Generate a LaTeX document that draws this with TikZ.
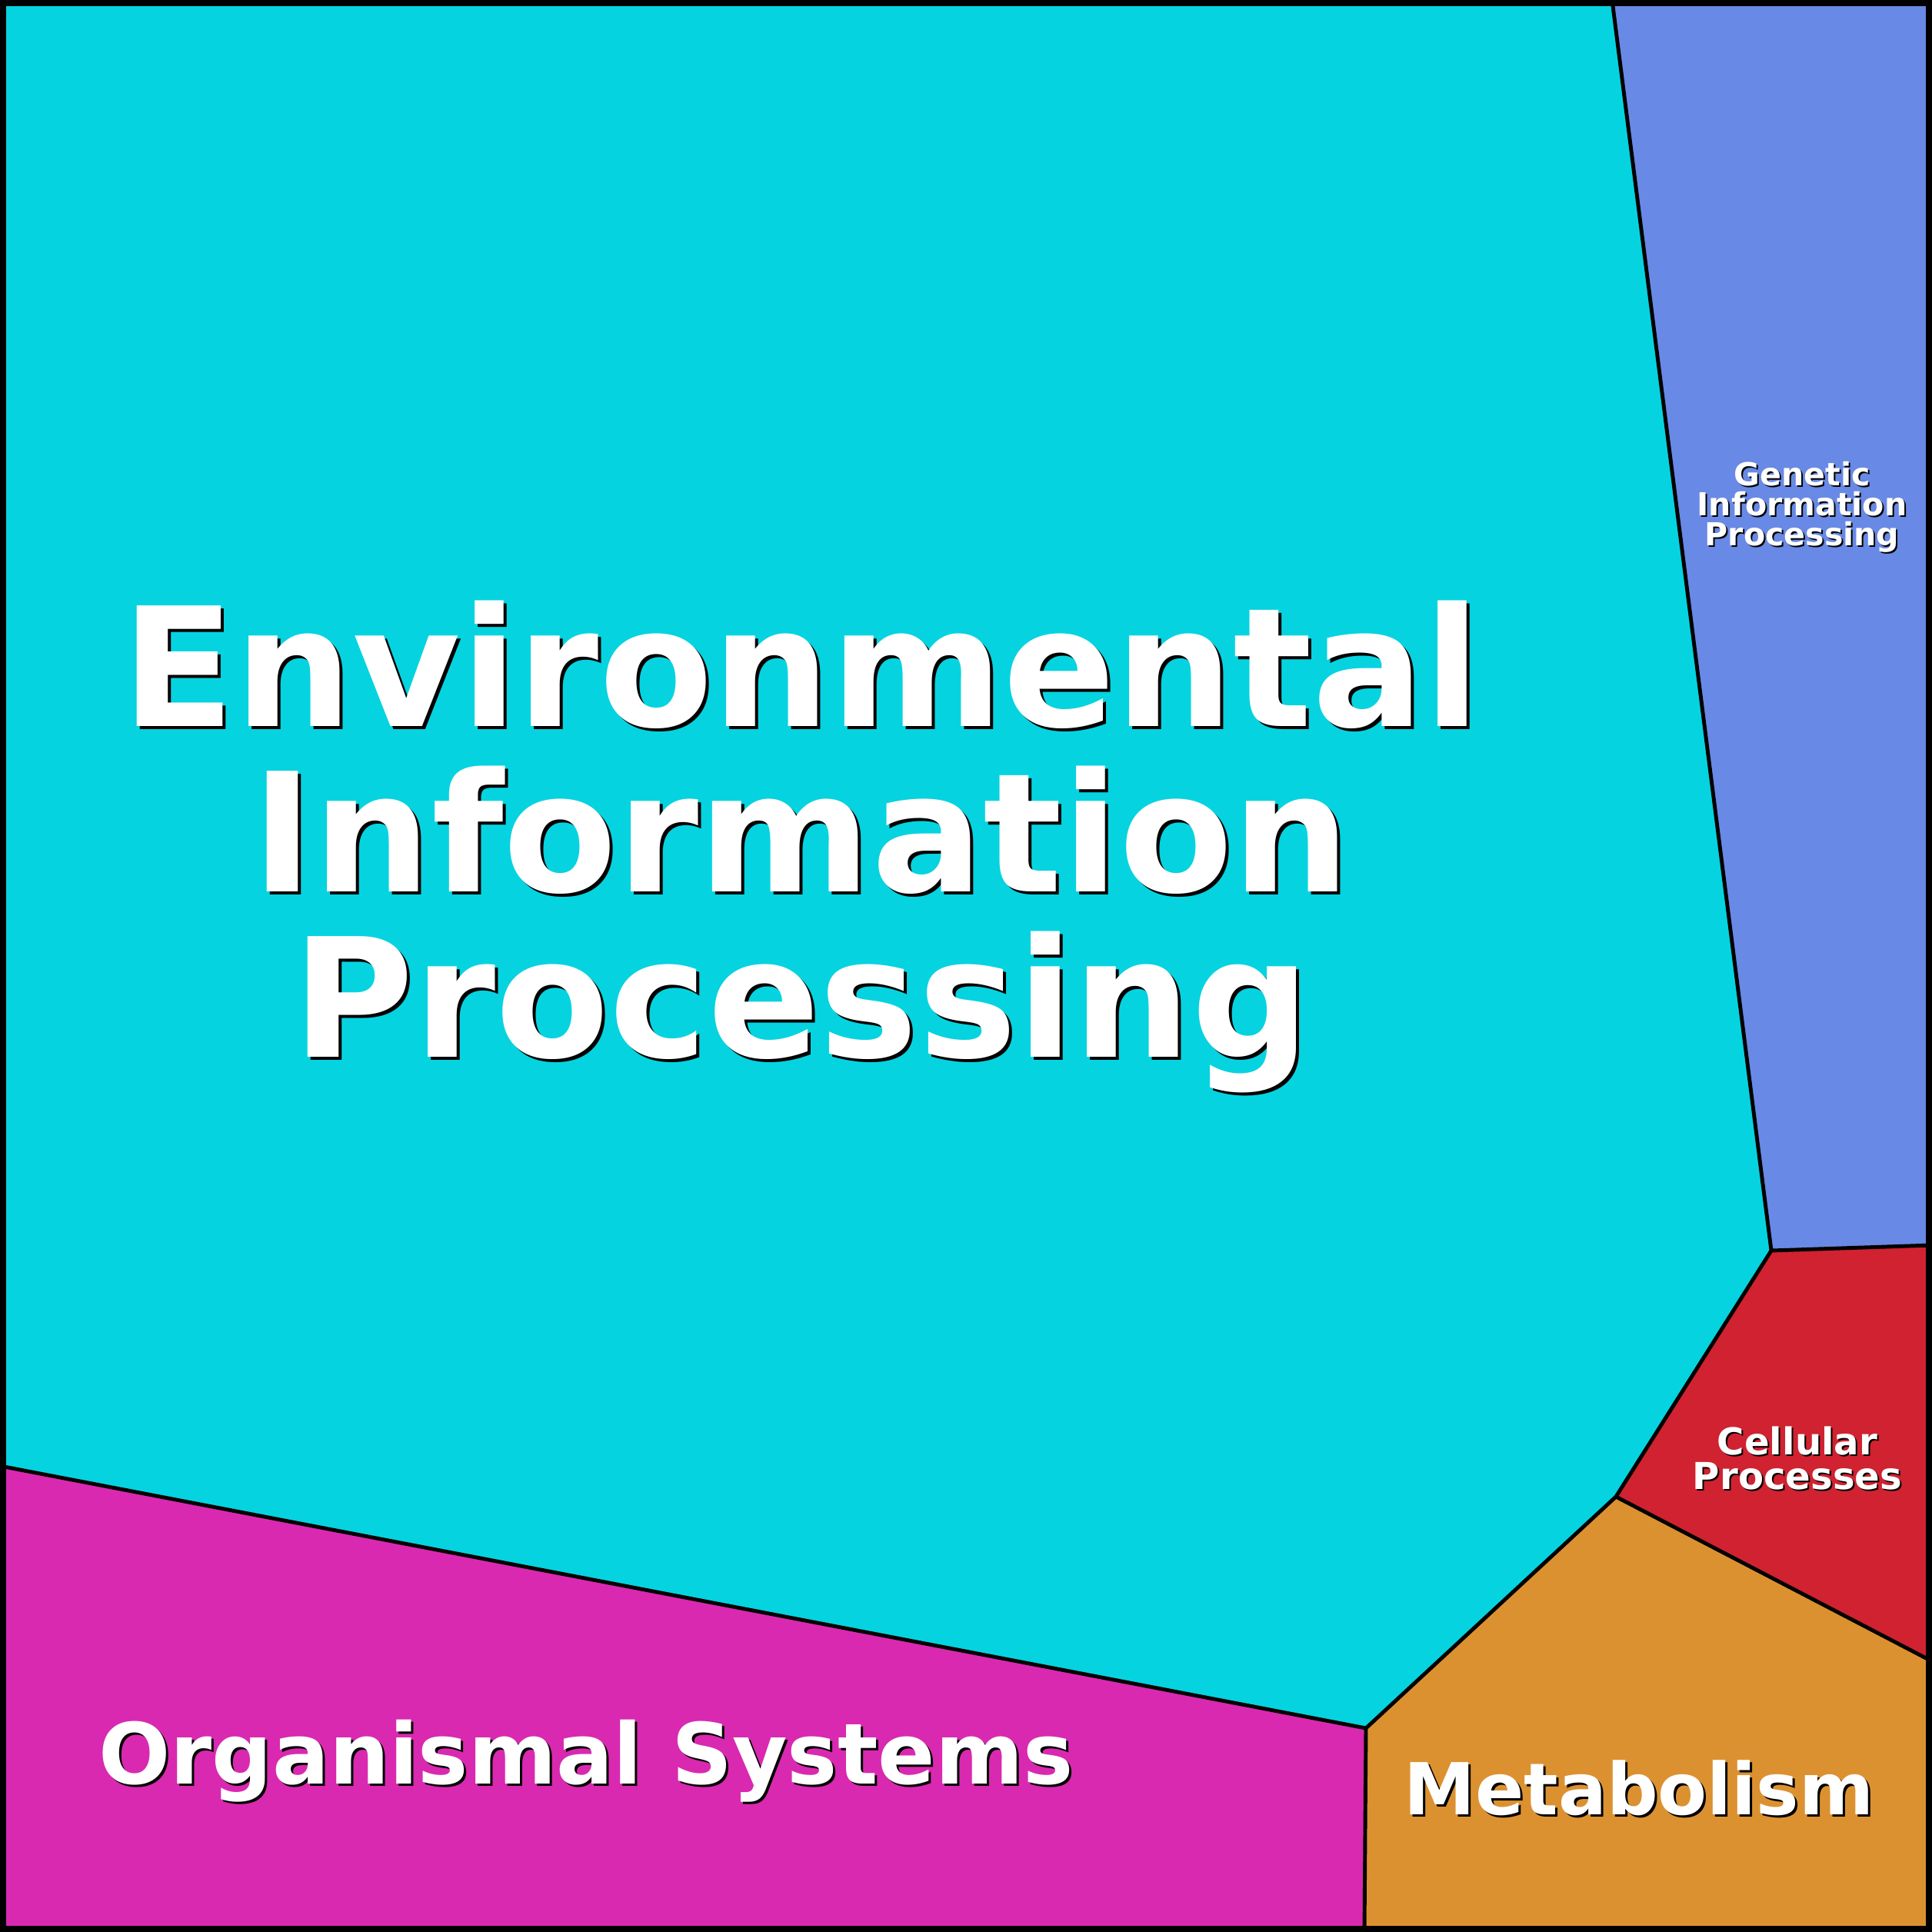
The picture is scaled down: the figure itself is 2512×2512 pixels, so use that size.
\documentclass[tikz,border=0pt]{standalone}
\usepackage{fontspec}
\setmainfont{DejaVu Sans}
\definecolor{cenv}{HTML}{06D3E0}
\definecolor{cgen}{HTML}{6889E5}
\definecolor{ccel}{HTML}{D02230}
\definecolor{cmet}{HTML}{DC9130}
\definecolor{corg}{HTML}{D929B0}
\begin{document}
\begin{tikzpicture}[x=0.01cm,y=-0.01cm,
  cell/.style={draw=black,line width=1.4pt,line join=round},
  lbl/.style={text=white,font=\bfseries,align=center,inner sep=0pt},
  shd/.style={text=black,font=\bfseries,align=center,inner sep=0pt}]
\useasboundingbox (0,0) rectangle (2512,2512);
\coordinate (tl) at (0,0); \coordinate (tr) at (2512,0);
\coordinate (br) at (2512,2512); \coordinate (bl) at (0,2512);
\coordinate (a) at (2096,0); \coordinate (b) at (2303,1626);
\coordinate (c) at (2512,1619); \coordinate (d) at (2101,1946);
\coordinate (e) at (2512,2160); \coordinate (f) at (1776,2247);
\coordinate (g) at (0,1906); \coordinate (h) at (1774,2512);
\fill[cenv] (tl) -- (a) -- (b) -- (d) -- (f) -- (g) -- cycle;
\fill[cgen] (a) -- (tr) -- (c) -- (b) -- cycle;
\fill[ccel] (b) -- (c) -- (e) -- (d) -- cycle;
\fill[cmet] (d) -- (e) -- (br) -- (h) -- (f) -- cycle;
\fill[corg] (g) -- (f) -- (h) -- (bl) -- cycle;
\draw[cell] (a) -- (b) -- (c);
\draw[cell] (b) -- (d) -- (e);
\draw[cell] (d) -- (f) -- (g);
\draw[cell] (f) -- (h);
\draw[line width=2.4pt] (4,4) rectangle (2508,2508);
\newcommand{\envtxt}{Environmental\\Information\\Processing}
\newcommand{\gentxt}{Genetic\\Information\\Processing}
\newcommand{\celtxt}{Cellular\\Processes}
\tikzset{fe/.style={font=\fontsize{61.2}{61.2}\selectfont\bfseries},
  fg/.style={font=\fontsize{11.7}{11.1}\selectfont\bfseries},
  fc/.style={font=\fontsize{13.7}{12.8}\selectfont\bfseries},
  fo/.style={font=\fontsize{31.2}{31.2}\selectfont\bfseries},
  fm/.style={font=\fontsize{26.5}{26.5}\selectfont\bfseries}}
\node[shd,fe] (envs) at (1046,1105) {\envtxt};
\node[lbl,fe] (env) at (1042,1101) {\envtxt};
\node[shd,fg] (gens) at (2345,661) {\gentxt};
\node[lbl,fg] (gen) at (2343,659) {\gentxt};
\node[shd,fc] (cels) at (2339,1898) {\celtxt};
\node[lbl,fc] (cel) at (2337,1896) {\celtxt};
\node[shd,fo] (orgs) at (765,2293) {Organismal Systems};
\node[lbl,fo] (org) at (762,2290) {Organismal Systems};
\node[shd,fm] (mets) at (2134,2328) {Metabolism};
\node[lbl,fm] (met) at (2131,2325) {Metabolism};
\end{tikzpicture}
\end{document}
